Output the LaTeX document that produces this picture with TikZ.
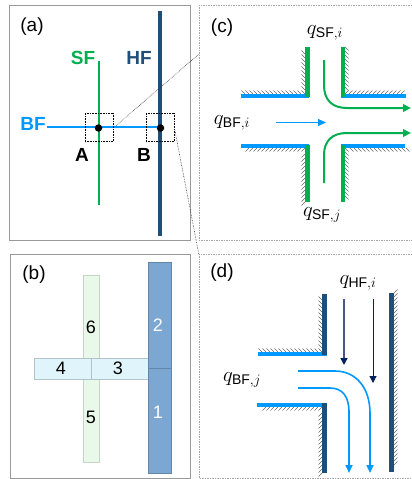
\documentclass[tikz,border=0pt]{standalone}
\usepackage{amsmath}
\usepackage{amssymb}
\usepackage{fontspec}
\setmainfont{Liberation Sans}
\usepackage{tikz}
\usetikzlibrary{arrows.meta,decorations.pathreplacing}
\definecolor{sfgreen}{HTML}{00B050}
\definecolor{bfblue}{HTML}{0099FF}
\definecolor{hfdark}{HTML}{1F4E79}
\definecolor{hfnavy}{HTML}{002060}
\definecolor{hfslate}{HTML}{44598A}
\definecolor{barblue}{HTML}{7BA7D2}
\definecolor{barcyan}{HTML}{DFF4FB}
\definecolor{bargreen}{HTML}{E9F9E9}
\tikzset{
  panel/.style={draw=black!40,line width=1pt},
  zoompanel/.style={draw=black!35,dash pattern=on 1.5pt off 1pt,line width=0.5pt},
  zoombox/.style={draw=black,densely dotted,line width=0.6pt,minimum width=28pt,minimum height=28pt,inner sep=0pt},
  leader/.style={draw=black!80,densely dotted,line width=0.6pt},
  dot/.style={circle,fill=black,minimum size=7.5pt,inner sep=0pt},
  tag/.style={font=\fontsize{19}{19}\selectfont,inner sep=0pt},
  flowlabel/.style={font=\fontsize{20}{20}\selectfont,inner sep=0pt},
  keylabel/.style={font=\fontsize{19}{19}\selectfont\bfseries,inner sep=0pt},
  hatchback/.style={draw=black!60,line width=0.5pt,decorate,decoration={border,segment length=4pt,amplitude=5pt,angle=135}},
  hatchfore/.style={draw=black!60,line width=0.5pt,decorate,decoration={border,segment length=4pt,amplitude=5pt,angle=45}},
  bfwall/.style={bfblue,line width=3.5pt},
  sfwall/.style={sfgreen,line width=4.5pt},
  hfwall/.style={hfdark,line width=5pt},
  bluebar/.style={draw=barblue!80!black,fill=barblue,minimum width=23pt,inner sep=0pt},
  cyanbar/.style={draw=barcyan!80!black,fill=barcyan,minimum height=21pt,inner sep=0pt},
  greenbar/.style={draw=bargreen!85!black,fill=bargreen,minimum width=16pt,inner sep=0pt},
  barnum/.style={font=\fontsize{18}{18}\selectfont,inner sep=0pt},
}
\begin{document}
\begin{tikzpicture}[x=1pt,y=-1pt]
\useasboundingbox (0,0) rectangle (412,479);

% Panel a
\draw[panel] (9,5) rectangle (190,240);
\node[tag] (taga) at (32,27) {(a)};
\draw[hfdark,line width=4pt] (160,11) -- (160,236);
\draw[sfgreen,line width=2pt] (98.5,61) -- (98.5,205);
\draw[bfblue,line width=2.8pt] (47,127) -- (160,127);
\node[keylabel,text=sfgreen] (sf) at (83,58) {SF};
\node[keylabel,text=hfdark] (hf) at (139,58) {HF};
\node[keylabel,text=bfblue] (bf) at (33,124) {BF};
\node[dot] (ja) at (98.5,128) {};
\node[dot] (jb) at (160.5,128) {};
\node[zoombox] (boxa) at (99,127.5) {};
\node[zoombox] (boxb) at (160,127.5) {};
\node[keylabel,text=black] (la) at (82,155) {A};
\node[keylabel,text=black] (lb) at (144,155) {B};

% Panel b
\draw[panel] (10,254) rectangle (190,478);
\node[tag] (tagb) at (34,275) {(b)};
\node[greenbar,minimum height=187pt] (sfbar) at (91.5,368.5) {};
\node[cyanbar,minimum width=114pt] (bfbar) at (91,368.5) {};
\draw[barcyan!80!black] (91.5,358) -- (91.5,379);
\node[bluebar,minimum height=105.5pt] (seg2) at (159.5,315) {};
\node[bluebar,minimum height=105.5pt] (seg1) at (159.5,420.5) {};
\node[barnum,text=white] at (158,325) (n2) {2};
\node[barnum,text=white] at (158,412) (n1) {1};
\node[barnum] at (118,368) (n3) {3};
\node[barnum] at (61,368) (n4) {4};
\node[barnum] at (91,417) (n5) {5};
\node[barnum] at (91,327) (n6) {6};

% Panel c
\draw[zoompanel] (412,5) -- (199,5) -- (199,240) -- (412,240);
\coordinate (cin) at (199,54);
\draw[leader] (boxa.east) ++(3,-2) -- (cin);
\node[tag] (tagc) at (222,28) {(c)};
\draw[hatchback] (245,94) -- (305,94);
\draw[hatchfore] (305,94) -- (305,47);
\draw[hatchfore] (345,47) -- (345,94);
\draw[hatchfore] (345,94) -- (406,94);
\draw[hatchback] (406,148) -- (345,148);
\draw[hatchfore] (345,148) -- (345,202);
\draw[hatchback] (305,202) -- (305,148);
\draw[hatchfore] (305,148) -- (245,148);
\draw[bfwall] (241,96) -- (309,96);
\draw[bfwall] (341,96) -- (406,96);
\draw[bfwall] (241,146) -- (309,146);
\draw[bfwall] (341,146) -- (405,146);
\draw[sfwall] (307.5,47) -- (307.5,97);
\draw[sfwall] (343,47) -- (343,97);
\draw[sfwall] (307.5,145) -- (307.5,202);
\draw[sfwall] (343,145) -- (343,202);
\draw[sfgreen,line width=2pt,-{Triangle[length=8pt,width=7.5pt]}] (324,60) -- (324,85) .. controls (324,100) and (332,108) .. (347,108) -- (411,108);
\draw[sfgreen,line width=2pt,-{Triangle[length=8pt,width=7.5pt]}] (324,183) -- (324,155) .. controls (324,141) and (332,133) .. (347,133) -- (411,133);
\draw[bfblue,line width=1pt,-{Triangle[length=8pt,width=7pt]}] (276,122.5) -- (326,122.5);
\node[flowlabel] (qsfi) at (325,33) {$q_{\mathrm{SF},i}$};
\node[flowlabel] (qsfj) at (322,215) {$q_{\mathrm{SF},j}$};
\node[flowlabel] (qbfi) at (232,123) {$q_{\mathrm{BF},i}$};

% Panel d
\draw[zoompanel] (412,254) -- (199,254) -- (199,478) -- (412,478);
\coordinate (din) at (199,255);
\draw[leader] (boxb.east) -- (din);
\node[tag] (tagd) at (222,273) {(d)};
\draw[hatchback] (262,352) -- (322,352);
\draw[hatchfore] (322,352) -- (322,294);
\draw[hatchback] (322,473) -- (322,407);
\draw[hatchfore] (322,407) -- (260,407);
\draw[hatchback] (394,293) -- (394,472);
\draw[bfwall] (258,354) -- (327,354);
\draw[bfwall] (257,405) -- (327,405);
\draw[hfwall] (324.5,294) -- (324.5,355);
\draw[hfwall] (324.5,403) -- (324.5,473);
\draw[hfwall] (391.5,293) -- (391.5,472);
\draw[hfslate,line width=1.5pt,-{Triangle[length=7pt,width=7pt,color=hfnavy]}] (344,299) -- (344,365);
\draw[hfnavy,line width=1pt,-{Triangle[length=7pt,width=7pt]}] (373,299) -- (373,383);
\draw[bfblue,line width=1.6pt,-{Triangle[length=8pt,width=7pt]}] (298,371) -- (335,371) .. controls (356,371) and (370,388) .. (370,413) -- (370,473);
\draw[bfblue,line width=1.6pt,-{Triangle[length=8pt,width=7pt]}] (298,388) -- (330,388) .. controls (342,388) and (349,396) .. (349,412) -- (349,473);
\node[flowlabel] (qhfi) at (358,283) {$q_{\mathrm{HF},i}$};
\node[flowlabel] (qbfj) at (242,380) {$q_{\mathrm{BF},j}$};
\end{tikzpicture}
\end{document}
